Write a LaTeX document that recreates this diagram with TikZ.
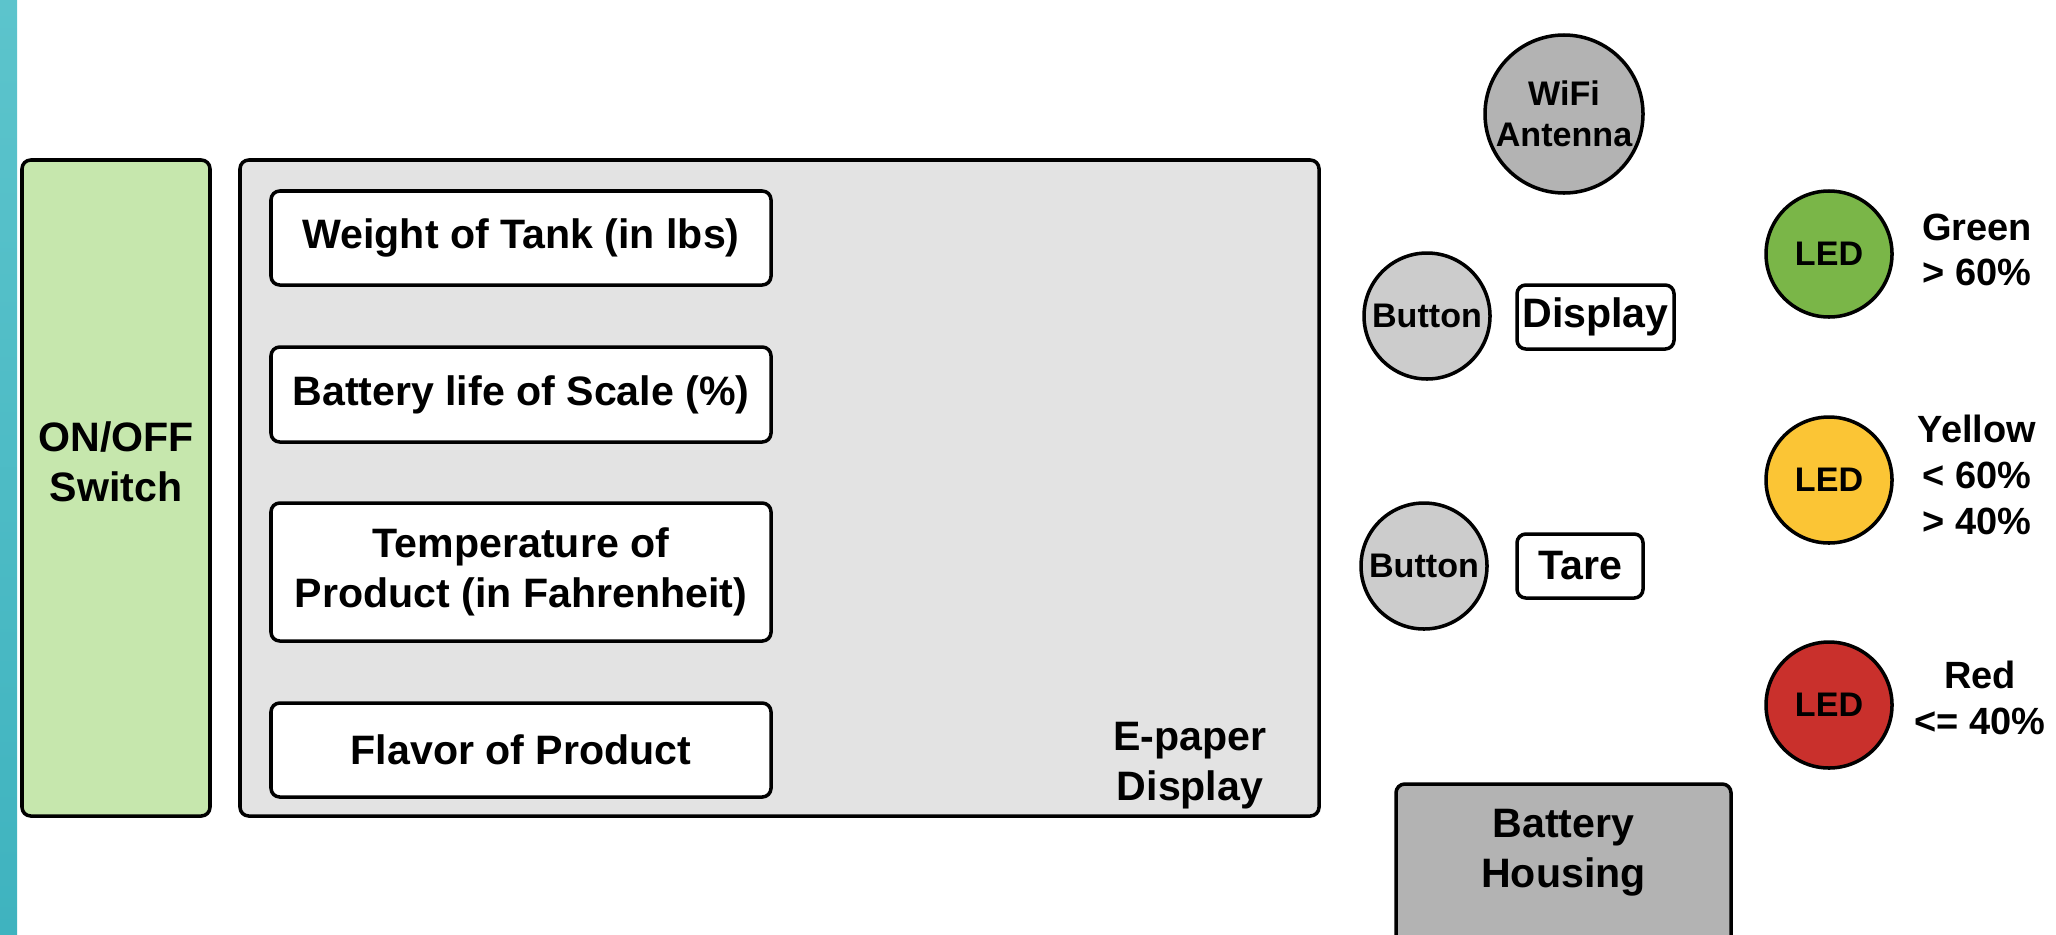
\documentclass[tikz,border=0pt]{standalone}
\usepackage{fontspec}
\setmainfont{Liberation Sans}
\usepackage{tikz}
\usetikzlibrary{positioning}

\definecolor{tealtop}{HTML}{5CC4CC}
\definecolor{tealbot}{HTML}{3FB3BF}
\definecolor{switchgreen}{HTML}{C6E7AD}
\definecolor{papergray}{HTML}{E3E3E3}
\definecolor{buttongray}{HTML}{CCCCCC}
\definecolor{darkgray}{HTML}{B3B3B3}
\definecolor{ledgreen}{HTML}{7AB648}
\definecolor{ledyellow}{HTML}{FBC535}
\definecolor{ledred}{HTML}{C9302C}

\begin{document}
\begin{tikzpicture}[
	scale=1,
  bigfont/.style = {font=\bfseries\fontsize{11.7}{14.2}\selectfont},
  smallfont/.style = {font=\bfseries\fontsize{9.7}{11.5}\selectfont},
  box/.style = {draw,line width=1pt,rounded corners=2.5pt,fill=white,bigfont,align=center,inner sep=0pt},
  part/.style = {draw,circle,line width=1pt,inner sep=0pt,minimum size=1.26cm,smallfont,align=center},
  note/.style = {font=\bfseries\fontsize{10.8}{13}\selectfont,align=center}
  ]
	\useasboundingbox (0,0) rectangle (20.56,9.34);
	\shade[top color=tealtop, bottom color=tealbot] (0,0) rectangle (0.17,9.34);

	\node[box, fill=switchgreen, minimum width=1.88cm, minimum height=6.56cm] (switch) at (1.16,4.46) {};
	\node[bigfont, align=center] (switchlbl) at (1.16,4.72) {ON/OFF\\Switch};
	\node[box, fill=papergray, minimum width=10.79cm, minimum height=6.56cm] (paper) at (7.795,4.46) {};
	\node[bigfont, align=center] (paperlbl) at (11.9,1.68) {E-paper\\Display};

	\node[box, minimum width=5cm, minimum height=0.94cm] (weight) at (5.21,6.96) {Weight of Tank (in lbs)};
	\node[box, minimum width=5cm, minimum height=0.95cm] (battlife) at (5.21,5.395) {Battery life of Scale (\%)};
	\node[box, minimum width=5cm, minimum height=1.38cm] (temp) at (5.21,3.62) {Temperature of\\Product (in Fahrenheit)};
	\node[box, minimum width=5cm, minimum height=0.94cm] (flavor) at (5.21,1.84) {Flavor of Product};

	\node[part, fill=darkgray, minimum size=1.58cm] (wifi) at (15.64,8.20) {WiFi\\Antenna};

	\node[part, fill=buttongray] (btndisp) at (14.27,6.18) {Button};
	\node[box, minimum width=1.57cm, minimum height=0.64cm] (disp) at (15.955,6.17) {Display};
	\node[part, fill=buttongray] (btntare) at (14.24,3.68) {Button};
	\node[box, minimum width=1.26cm, minimum height=0.64cm] (tare) at (15.80,3.68) {Tare};

	\node[part, fill=ledgreen] (ledg) at (18.29,6.80) {LED};
	\node[part, fill=ledyellow] (ledy) at (18.29,4.54) {LED};
	\node[part, fill=ledred] (ledr) at (18.29,2.29) {LED};

	\node[note] (lblg) at (19.77,6.84) {Green\\> 60\%};
	\node[note] (lbly) at (19.77,4.59) {Yellow\\< 60\%\\> 40\%};
	\node[note] (lblr) at (19.80,2.36) {Red\\<= 40\%};

	\draw[line width=1pt, rounded corners=2.5pt, fill=darkgray] (13.96,-0.2) rectangle (17.31,1.50);
	\node[bigfont, align=center] (batt) at (15.635,0.81) {Battery\\Housing};

\end{tikzpicture}
\end{document}
